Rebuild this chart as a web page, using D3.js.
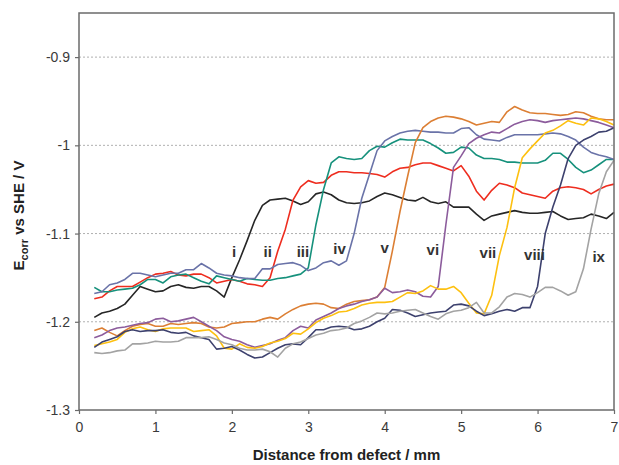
<!DOCTYPE html>
<html>
<head>
<meta charset="utf-8">
<script src="https://cdn.jsdelivr.net/npm/d3@7"></script>
<style>
  body { margin: 0; background: #fff; }
  svg { font-family: "Liberation Sans", Arial, sans-serif; }
</style>
</head>
<body>
<div id="chart"></div>
<script>
// distance from defect (mm), shared by all scans
const distance = [0.2,0.3,0.4,0.5,0.6,0.7,0.8,0.9,1.0,1.1,1.2,1.3,1.4,1.5,1.6,1.7,1.8,1.9,2.0,2.1,2.2,2.3,2.4,2.5,2.6,2.7,2.8,2.9,3.0,3.1,3.2,3.3,3.4,3.5,3.6,3.7,3.8,3.9,4.0,4.1,4.2,4.3,4.4,4.5,4.6,4.7,4.8,4.9,5.0,5.1,5.2,5.3,5.4,5.5,5.6,5.7,5.8,5.9,6.0,6.1,6.2,6.3,6.4,6.5,6.6,6.7,6.8,6.9,7.0];

const scanI = [-1.195,-1.19,-1.188,-1.185,-1.18,-1.17,-1.16,-1.163,-1.166,-1.165,-1.16,-1.158,-1.161,-1.162,-1.16,-1.16,-1.165,-1.172,-1.15,-1.13,-1.108,-1.085,-1.068,-1.062,-1.061,-1.06,-1.063,-1.067,-1.064,-1.055,-1.053,-1.056,-1.062,-1.065,-1.066,-1.065,-1.063,-1.058,-1.054,-1.056,-1.059,-1.062,-1.063,-1.059,-1.064,-1.066,-1.064,-1.07,-1.07,-1.07,-1.078,-1.085,-1.08,-1.078,-1.076,-1.074,-1.076,-1.077,-1.077,-1.076,-1.075,-1.08,-1.084,-1.083,-1.082,-1.078,-1.08,-1.083,-1.076];
const scanII = [-1.174,-1.172,-1.165,-1.16,-1.16,-1.16,-1.155,-1.15,-1.146,-1.145,-1.143,-1.147,-1.148,-1.146,-1.146,-1.15,-1.156,-1.154,-1.152,-1.154,-1.157,-1.158,-1.16,-1.15,-1.12,-1.095,-1.062,-1.047,-1.04,-1.043,-1.042,-1.034,-1.03,-1.03,-1.031,-1.031,-1.032,-1.033,-1.036,-1.03,-1.026,-1.025,-1.022,-1.02,-1.02,-1.023,-1.026,-1.029,-1.023,-1.035,-1.052,-1.062,-1.051,-1.043,-1.045,-1.048,-1.054,-1.056,-1.058,-1.06,-1.052,-1.048,-1.047,-1.048,-1.05,-1.055,-1.05,-1.046,-1.044];
const scanIII = [-1.161,-1.166,-1.166,-1.164,-1.163,-1.162,-1.158,-1.152,-1.152,-1.156,-1.149,-1.147,-1.146,-1.15,-1.154,-1.157,-1.148,-1.15,-1.152,-1.154,-1.151,-1.152,-1.153,-1.153,-1.151,-1.15,-1.148,-1.146,-1.139,-1.09,-1.05,-1.02,-1.013,-1.015,-1.016,-1.015,-1.006,-1.001,-1.002,-0.997,-0.993,-0.994,-0.994,-0.994,-0.998,-1.003,-1.009,-1.008,-1.002,-1.003,-1.011,-1.015,-1.015,-1.016,-1.019,-1.019,-1.02,-1.02,-1.02,-1.017,-1.009,-1.009,-1.016,-1.025,-1.031,-1.028,-1.022,-1.016,-1.016];
const scanIV = [-1.168,-1.166,-1.158,-1.156,-1.152,-1.145,-1.145,-1.147,-1.149,-1.147,-1.145,-1.145,-1.141,-1.141,-1.134,-1.139,-1.145,-1.147,-1.148,-1.15,-1.151,-1.151,-1.14,-1.14,-1.135,-1.134,-1.133,-1.136,-1.142,-1.139,-1.133,-1.131,-1.136,-1.131,-1.1,-1.06,-1.033,-1.006,-0.995,-0.99,-0.986,-0.984,-0.983,-0.984,-0.985,-0.985,-0.986,-0.986,-0.981,-0.98,-0.988,-0.993,-0.994,-0.995,-0.991,-0.988,-0.988,-0.988,-0.988,-0.987,-0.986,-0.987,-0.99,-0.994,-1.002,-1.008,-1.011,-1.013,-1.016];
const scanV = [-1.21,-1.207,-1.212,-1.216,-1.21,-1.205,-1.203,-1.202,-1.205,-1.205,-1.202,-1.203,-1.202,-1.201,-1.202,-1.206,-1.207,-1.206,-1.202,-1.201,-1.2,-1.2,-1.197,-1.195,-1.197,-1.191,-1.186,-1.182,-1.18,-1.179,-1.18,-1.184,-1.185,-1.18,-1.177,-1.176,-1.175,-1.172,-1.161,-1.12,-1.075,-1.035,-0.997,-0.98,-0.973,-0.969,-0.967,-0.968,-0.97,-0.973,-0.977,-0.975,-0.973,-0.974,-0.962,-0.956,-0.96,-0.963,-0.964,-0.964,-0.965,-0.966,-0.965,-0.962,-0.963,-0.967,-0.97,-0.971,-0.971];
const scanVI = [-1.218,-1.215,-1.21,-1.207,-1.206,-1.204,-1.202,-1.201,-1.197,-1.196,-1.2,-1.199,-1.197,-1.195,-1.2,-1.205,-1.21,-1.217,-1.22,-1.222,-1.226,-1.229,-1.227,-1.225,-1.221,-1.218,-1.21,-1.205,-1.207,-1.198,-1.194,-1.19,-1.185,-1.182,-1.18,-1.177,-1.175,-1.172,-1.162,-1.167,-1.166,-1.164,-1.166,-1.171,-1.172,-1.16,-1.09,-1.025,-1.012,-0.998,-0.992,-0.988,-0.985,-0.986,-0.981,-0.976,-0.973,-0.971,-0.972,-0.974,-0.972,-0.971,-0.97,-0.969,-0.97,-0.972,-0.974,-0.977,-0.98];
const scanVII = [-1.227,-1.225,-1.223,-1.22,-1.212,-1.208,-1.206,-1.209,-1.211,-1.208,-1.207,-1.207,-1.207,-1.211,-1.21,-1.209,-1.216,-1.23,-1.231,-1.225,-1.229,-1.23,-1.228,-1.224,-1.222,-1.219,-1.213,-1.214,-1.208,-1.201,-1.196,-1.193,-1.189,-1.188,-1.185,-1.181,-1.179,-1.178,-1.178,-1.177,-1.172,-1.167,-1.168,-1.165,-1.159,-1.163,-1.163,-1.16,-1.167,-1.179,-1.19,-1.191,-1.17,-1.125,-1.093,-1.048,-1.014,-1.004,-0.995,-0.986,-0.983,-0.978,-0.972,-0.975,-0.977,-0.969,-0.97,-0.973,-0.977];
const scanVIII = [-1.229,-1.223,-1.22,-1.217,-1.211,-1.209,-1.211,-1.21,-1.21,-1.209,-1.212,-1.213,-1.212,-1.216,-1.218,-1.22,-1.231,-1.23,-1.228,-1.232,-1.237,-1.241,-1.24,-1.235,-1.23,-1.226,-1.225,-1.226,-1.218,-1.209,-1.209,-1.206,-1.205,-1.206,-1.209,-1.208,-1.205,-1.2,-1.196,-1.186,-1.187,-1.19,-1.194,-1.192,-1.19,-1.189,-1.188,-1.181,-1.18,-1.182,-1.188,-1.193,-1.191,-1.188,-1.186,-1.188,-1.184,-1.184,-1.16,-1.1,-1.07,-1.045,-1.015,-1.0,-0.994,-0.99,-0.985,-0.984,-0.98];
const scanIX = [-1.235,-1.236,-1.235,-1.233,-1.232,-1.225,-1.225,-1.224,-1.222,-1.223,-1.223,-1.222,-1.218,-1.218,-1.218,-1.217,-1.22,-1.224,-1.226,-1.23,-1.232,-1.232,-1.231,-1.234,-1.24,-1.23,-1.225,-1.223,-1.219,-1.215,-1.213,-1.21,-1.209,-1.207,-1.202,-1.199,-1.195,-1.19,-1.191,-1.19,-1.188,-1.187,-1.186,-1.19,-1.194,-1.197,-1.191,-1.188,-1.187,-1.184,-1.178,-1.19,-1.19,-1.183,-1.172,-1.168,-1.169,-1.172,-1.167,-1.161,-1.161,-1.165,-1.17,-1.166,-1.14,-1.095,-1.055,-1.03,-1.017];

const seriesNames = ["i","ii","iii","iv","v","vi","vii","viii","ix"];
const seriesValues = [scanI, scanII, scanIII, scanIV, scanV, scanVI, scanVII, scanVIII, scanIX];
const seriesColors = ["#262626","#ee2d1f","#16917c","#6a73a8","#dc7f34","#8c5c9c","#fdc010","#3d416e","#a3a3a3"];
// label anchors (mm, V)
const labelX = [2.03, 2.47, 2.93, 3.41, 4.0, 4.63, 5.35, 5.96, 6.8];
const labelY = [-1.122, -1.122, -1.122, -1.119, -1.117, -1.12, -1.123, -1.125, -1.128];

const xTicks = [0,1,2,3,4,5,6,7];
const yTicks = [-1.3,-1.2,-1.1,-1,-0.9];
const yTickLabels = ["-1.3","-1.2","-1.1","-1","-0.9"];
const gridValues = [-1.2,-1.1,-1,-0.9];

const width = 619, height = 465;
const margin = {top: 13, right: 5, bottom: 55, left: 79};

const svg = d3.select("#chart").append("svg")
    .attr("width", width)
    .attr("height", height);

const x = d3.scaleLinear().domain([0, 7]).range([margin.left, width - margin.right]);
const y = d3.scaleLinear().domain([-1.3, -0.85]).range([height - margin.bottom, margin.top]);

// dotted grid
svg.append("g")
    .selectAll("line")
    .data(gridValues)
    .join("line")
    .attr("x1", x(0)).attr("x2", x(7))
    .attr("y1", d => y(d)).attr("y2", d => y(d))
    .attr("stroke", "#b0b0b0")
    .attr("stroke-width", 1)
    .attr("stroke-dasharray", "2,2");

// curves
const line = d3.line()
    .x((d, i) => x(distance[i]))
    .y(d => y(d));

svg.append("g")
    .attr("fill", "none")
    .attr("stroke-width", 1.6)
    .attr("stroke-linejoin", "round")
    .selectAll("path")
    .data(seriesValues)
    .join("path")
    .attr("stroke", (d, i) => seriesColors[i])
    .attr("d", line);

// frame
svg.append("rect")
    .attr("x", x(0)).attr("y", y(-0.85))
    .attr("width", x(7) - x(0)).attr("height", y(-1.3) - y(-0.85))
    .attr("fill", "none")
    .attr("stroke", "#6b6b6b")
    .attr("stroke-width", 1.5);

// axes
const xAxis = svg.append("g")
    .attr("transform", `translate(0,${y(-1.3)})`)
    .call(d3.axisBottom(x).tickValues(xTicks).tickSize(4).tickFormat(d3.format("d")));
const yAxis = svg.append("g")
    .attr("transform", `translate(${x(0)},0)`)
    .call(d3.axisLeft(y).tickValues(yTicks).tickSize(4).tickFormat((d, i) => yTickLabels[i]));

[xAxis, yAxis].forEach(g => {
    g.select(".domain").remove();
    g.selectAll(".tick line").attr("stroke", "#6b6b6b").attr("stroke-width", 1.2);
    g.selectAll(".tick text")
        .attr("fill", "#3a3a3a")
        .style("font-size", "14px")
        .style("font-family", "'Liberation Sans', Arial, sans-serif");
});
xAxis.selectAll(".tick text").attr("dy", "1.1em");
yAxis.selectAll(".tick text").attr("x", -9);

// curve labels
svg.append("g")
    .selectAll("text")
    .data(seriesNames)
    .join("text")
    .attr("x", (d, i) => x(labelX[i]))
    .attr("y", (d, i) => y(labelY[i]))
    .attr("text-anchor", "middle")
    .attr("dominant-baseline", "middle")
    .attr("fill", "#333")
    .style("font-size", "15px")
    .style("font-weight", "bold")
    .text(d => d);

// axis titles
svg.append("text")
    .attr("x", (x(0) + x(7)) / 2)
    .attr("y", 460)
    .attr("text-anchor", "middle")
    .attr("fill", "#222")
    .style("font-size", "15px")
    .style("font-weight", "bold")
    .text("Distance from defect / mm");

const yTitle = svg.append("text")
    .attr("transform", `translate(24,${(y(-1.3) + y(-0.85)) / 2 + 4}) rotate(-90)`)
    .attr("text-anchor", "middle")
    .attr("fill", "#222")
    .style("font-size", "15px")
    .style("font-weight", "bold");
yTitle.append("tspan").text("E");
yTitle.append("tspan").attr("dy", 4).style("font-size", "11px").text("corr");
yTitle.append("tspan").attr("dy", -4).text(" vs SHE / V");
</script>
</body>
</html>
